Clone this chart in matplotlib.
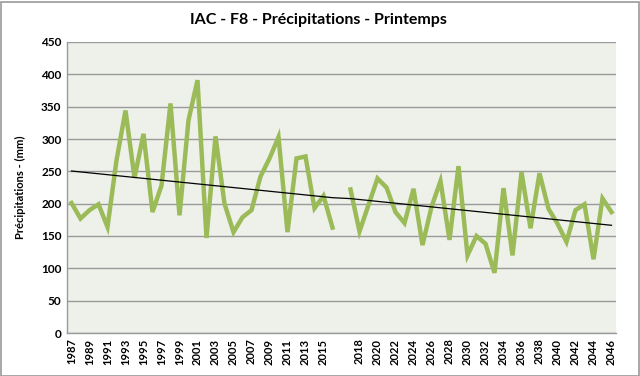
import numpy as np
import matplotlib
matplotlib.use("Agg")
import matplotlib.pyplot as plt
from matplotlib.patches import Rectangle

years_a = list(range(1987, 2017))
years_b = list(range(2017, 2047))
categories = [str(y) for y in years_a] + [""] + [str(y) for y in years_b]

values_a = [201, 177, 190, 199, 164, 267, 344, 240, 308, 187,
            228, 355, 182, 329, 391, 147, 304, 200, 156, 179,
            190, 242, 270, 303, 156, 270, 273, 193, 212, 163]
values_b = [222, 157, 198, 239, 225, 187, 170, 223, 136, 195,
            235, 144, 258, 120, 150, 138, 93, 224, 120, 249,
            162, 247, 192, 169, 141, 190, 199, 114, 208, 187]
values = values_a + [np.nan] + values_b

title = "IAC - F8 - Précipitations - Printemps"
ylabel = "Précipitations - (mm)"

FONT = "Lato"

x = np.arange(len(categories))
y = np.array(values, dtype=float)

fig = plt.figure(figsize=(6.4, 3.76), dpi=100)
ax = fig.add_axes([67/640, 43/376, 549/640, 291/376])
ax.set_facecolor("#EEF0EA")

ax.plot(x, y, color="#9BBB59", lw=3.2, solid_joinstyle="miter", zorder=3)

# linear trend line
mask = ~np.isnan(y)
xs = np.arange(mask.sum())
coef = np.polyfit(xs, y[mask], 1)
ax.plot(x[mask], np.polyval(coef, xs), color="black", lw=0.9, zorder=4)

ax.set_xlim(-0.5, len(categories) - 0.5)
ax.set_ylim(0, 450)
ax.set_yticks(np.arange(0, 451, 50))
ax.yaxis.grid(True, color="#9A9A9A", lw=1.0)
ax.set_axisbelow(True)

ax.set_xticks(x)
ax.set_xticklabels([c if i % 2 == 0 else "" for i, c in enumerate(categories)],
                   rotation=90, fontsize=8, fontweight="bold", family=FONT)
for lab in ax.get_yticklabels():
    lab.set_fontsize(8.5)
    lab.set_fontweight("bold")
    lab.set_family(FONT)
ax.tick_params(axis="both", length=0, pad=4)

for s in ["top", "right"]:
    ax.spines[s].set_visible(False)
for s in ["left", "bottom"]:
    ax.spines[s].set_color("#9A9A9A")
    ax.spines[s].set_linewidth(1.0)

ax.set_ylabel(ylabel, fontsize=8, fontweight="bold", labelpad=11, family=FONT)
fig.text(0.497, 1 - 20/376, title, ha="center", va="center",
         fontsize=11.5, fontweight="bold", family=FONT)

fig.patches.append(Rectangle((0.5/640, 0.5/376), 638/640, 374/376,
                             transform=fig.transFigure, fill=False,
                             edgecolor="#9A9A9A", lw=1.2))

fig.savefig("out.png", dpi=100)
